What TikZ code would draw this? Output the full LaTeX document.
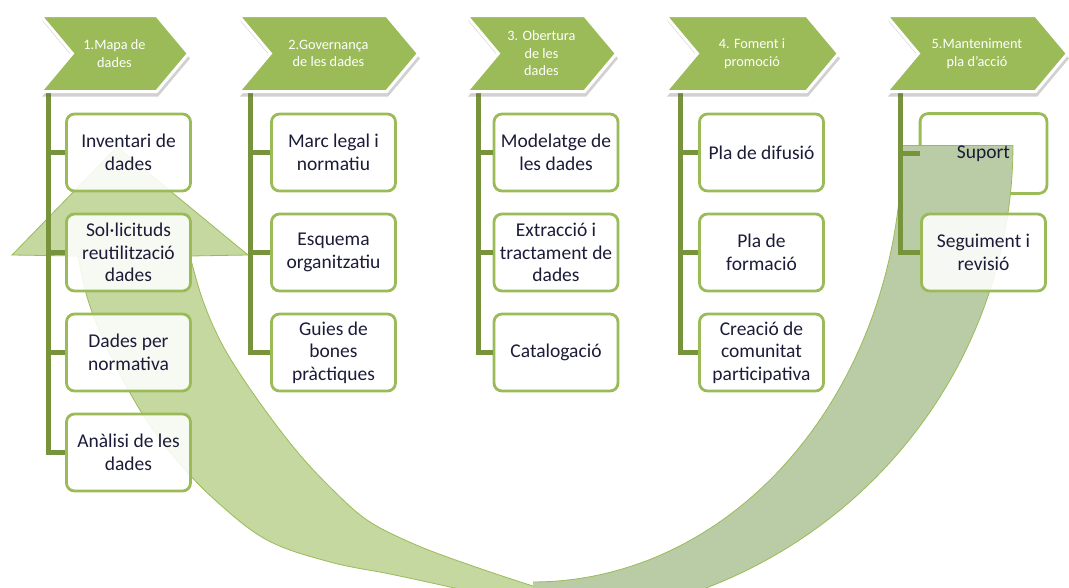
\documentclass[tikz,border=0pt]{standalone}
\usepackage{fontspec}
\setmainfont{Carlito}
\usepackage{tikz}
\usetikzlibrary{shapes.symbols,shadows}
\definecolor{olive}{HTML}{9BBB59}
\definecolor{stemgreen}{HTML}{77933C}
\definecolor{frontgreen}{RGB}{196,216,160}
\definecolor{backgreen}{RGB}{186,204,165}
\definecolor{tasktext}{RGB}{28,28,56}
\pgfdeclarelayer{bottom}
\pgfsetlayers{bottom,main}

\begin{document}
\begin{tikzpicture}[x=1pt, y=-1pt,
  stage/.style={shape=signal, signal from=west, signal to=east,
    signal pointer angle=100, fill=olive, draw=white, line width=3pt,
    minimum height=76pt, inner sep=0pt, text=white, align=center,
    font=\fontsize{14.3}{17.5}\selectfont,
    drop shadow={shadow xshift=1.5pt, shadow yshift=-5pt, opacity=0.3,
      fill=black!60}},
  task/.style={draw=olive, line width=2.8pt, rounded corners=8pt,
    fill=white, fill opacity=0.88, text opacity=1, minimum width=124pt,
    minimum height=77pt, inner sep=2pt, align=center, text=tasktext,
    font=\fontsize{19.5}{22.5}\selectfont},
  stem/.style={draw=stemgreen, line width=5pt},
  loopedge/.style={draw=olive, line width=0.8pt},
]
\useasboundingbox (0,0) rectangle (1069,587);

% --- Return arrow: front face with the head, back face up to the tail ---
\path[save path=\frontband]
  (117,147) -- (248,255) -- (190,256)
  -- plot[smooth, tension=0.6] coordinates {(190,256) (201,295) (215,330)
     (233,363) (265,410) (300,455) (335,492) (367,520) (405,540) (450,558)
     (533,586) (600,605)}
  -- plot[smooth, tension=0.6] coordinates {(580,622) (520,603) (450,587)
     (390,574) (330,562) (267,540) (215,500) (175,458) (140,410) (108,350)
     (88,300) (78,256)}
  -- (12,255) -- cycle;
\path[save path=\backband]
  (1013,145)
  -- plot[domain=0:90, samples=60] ({533+480*cos(\x)},{145+475*sin(\x)})
  -- plot[domain=90:0, samples=60] ({533+369*cos(\x)},{145+437*sin(\x)})
  -- cycle;

\begin{scope}
  \clip (0,0) rectangle (1069,587);
  \fill[frontgreen, use path=\frontband];
  \draw[loopedge, use path=\frontband];
  \fill[backgreen, use path=\backband];
  \draw[loopedge] plot[domain=0:90, samples=60]
    ({533+480*cos(\x)},{145+475*sin(\x)});
  \draw[loopedge] plot[domain=0:90, samples=60]
    ({533+369*cos(\x)},{145+437*sin(\x)});
  \draw[loopedge] (902,145) -- (1013,145);
\end{scope}

% --- Stems ---
\coordinate (s1) at (48,90);
\coordinate (s2) at (250,90);
\coordinate (s3) at (478,90);
\coordinate (s4) at (680,90);
\coordinate (s5) at (900,90);

% --- 1. Mapa de dades ---
\node[task] (a1) at (128.5,152.5) {Inventari de\\dades};
\node[task] (a2) at (128.5,252.5) {Sol·licituds\\reutilització\\dades};
\node[task] (a3) at (128.5,352.5) {Dades per\\normativa};
\node[task] (a4) at (128.5,452.5) {Anàlisi de les\\dades};

% --- 2. Governança ---
\node[task] (b1) at (333.5,152.5) {Marc legal i\\normatiu};
\node[task] (b2) at (333.5,252.5) {Esquema\\organitzatiu};
\node[task] (b3) at (333.5,352.5) {Guies de\\bones\\pràctiques};

% --- 3. Obertura ---
\node[task] (c1) at (556,152.5) {Modelatge de\\les dades};
\node[task] (c2) at (556,252.5) {Extracció i\\tractament de\\dades};
\node[task] (c3) at (556,352.5) {Catalogació};

% --- 4. Foment ---
\node[task] (d1) at (761.5,152.5) {Pla de difusió};
\node[task] (d2) at (761.5,252.5) {Pla de\\formació};
\node[task] (d3) at (761.5,352.5) {Creació de\\comunitat\\participativa};

% --- 5. Manteniment (Suport frame sits under the arrow) ---
\node[task, draw=none, fill=none] (e1) at (983.5,153.5) {Suport};
\begin{pgfonlayer}{bottom}
  \draw[task] (e1.south west) rectangle (e1.north east);
\end{pgfonlayer}
\node[task] (e2) at (983.5,252.5) {Seguiment i\\revisió};

% connectors
\draw[stem] (s1) |- (a4.west);
\foreach \t in {a1,a2,a3} \draw[stem] (s1 |- \t.west) -- (\t.west);
\draw[stem] (s2) |- (b3.west);
\foreach \t in {b1,b2} \draw[stem] (s2 |- \t.west) -- (\t.west);
\draw[stem] (s3) |- (c3.west);
\foreach \t in {c1,c2} \draw[stem] (s3 |- \t.west) -- (\t.west);
\draw[stem] (s4) |- (d3.west);
\foreach \t in {d1,d2} \draw[stem] (s4 |- \t.west) -- (\t.west);
\draw[stem] (s5) |- (e2.west);
\draw[stem] (s5 |- e1.west) -- (e1.west);

% --- Stage chevrons ---
\node[stage, minimum width=148pt] (p1) at (114.5,53.5) {1.Mapa de\\dades};
\node[stage, minimum width=180pt] (p2) at (328.5,53.5) {2.Governança\\de les dades};
\node[stage, minimum width=150pt] (p3) at (541.5,53.5) {3. Obertura\\de les\\dades};
\node[stage, minimum width=173pt] (p4) at (752,53.5) {4. Foment i\\promoció};
\node[stage, minimum width=181pt] (p5) at (977,53.5) {5.Manteniment\\pla d’acció};
\end{tikzpicture}
\end{document}
